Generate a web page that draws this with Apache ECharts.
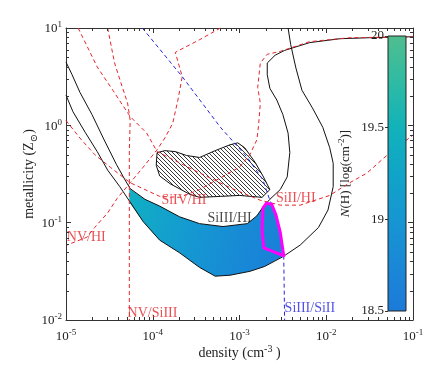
<!DOCTYPE html>
<html>
<head>
<meta charset="utf-8">
<script src="https://cdn.jsdelivr.net/npm/echarts@6/dist/echarts.min.js"></script>
<style>
html, body { margin: 0; padding: 0; background: #fff; }
#chart { width: 436px; height: 370px; }
</style>
</head>
<body>
<div id="chart"></div>
<script>
// every point is [log10 density (cm^-3), log10 metallicity (Zsun)]
var xTicks = [-5, -4, -3, -2, -1];
var yTicks = [-2, -1, 0, 1];
var cbTicks = [18.5, 19, 19.5, 20];

// SiIII/HI contours (black)
var siiiiHiInner = [[-5.00,0.65],[-4.93,0.52],[-4.84,0.34],[-4.70,0.11],[-4.56,-0.15],[-4.42,-0.40],[-4.32,-0.56],[-4.26,-0.65],[-4.09,-0.76],[-3.92,-0.83],[-3.69,-0.94],[-3.46,-1.01],[-3.19,-1.04],[-2.91,-1.01],[-2.80,-0.93],[-2.73,-0.84],[-2.65,-0.76],[-2.53,-0.66],[-2.45,-0.53],[-2.42,-0.28],[-2.44,-0.08],[-2.50,0.11],[-2.57,0.26],[-2.65,0.38],[-2.68,0.52],[-2.68,0.64],[-2.59,0.72],[-2.48,0.77],[-2.19,0.85],[-1.84,0.89],[-1.50,0.90],[-1.00,0.91]];
var siiiiHiOuter = [[-5.00,0.31],[-4.92,0.14],[-4.78,-0.07],[-4.64,-0.27],[-4.52,-0.46],[-4.38,-0.63],[-4.26,-0.79],[-4.11,-0.99],[-3.92,-1.18],[-3.69,-1.31],[-3.46,-1.46],[-3.28,-1.55],[-3.11,-1.54],[-2.88,-1.50],[-2.71,-1.45],[-2.50,-1.35],[-2.30,-1.23],[-2.09,-1.05],[-1.98,-0.87],[-1.92,-0.63],[-1.92,-0.39],[-1.96,-0.23],[-2.04,-0.02],[-2.16,0.18],[-2.28,0.36],[-2.35,0.59],[-2.41,0.83],[-2.44,1.00]];

// red dashed ratio curves
var nvSiiii = [[-4.52,1.00],[-4.44,0.64],[-4.35,0.39],[-4.29,0.23],[-4.26,0.05],[-4.27,-0.25],[-4.27,-2.00]];
var nvHi = [[-3.22,1.00],[-3.46,0.88],[-3.74,0.75],[-3.66,0.50],[-3.71,0.26],[-3.77,0.02],[-3.86,-0.13],[-3.95,-0.25],[-4.11,-0.43],[-4.26,-0.59],[-4.41,-0.75],[-4.52,-0.90],[-4.67,-1.05],[-4.76,-1.15],[-4.99,-1.23]];
var sivHi = [[-5.00,0.05],[-4.84,-0.13],[-4.67,-0.30],[-4.49,-0.43],[-4.26,-0.59],[-4.09,-0.66],[-3.92,-0.73],[-3.69,-0.74],[-3.46,-0.66],[-3.22,-0.54],[-3.00,-0.43],[-2.88,-0.30],[-2.80,-0.15],[-2.78,0.00],[-2.76,0.23],[-2.79,0.39],[-2.76,0.64],[-2.68,0.73],[-2.53,0.76],[-2.19,0.86],[-1.73,0.90],[-1.00,0.91]];
var siiHi = [[-4.86,1.00],[-4.64,0.60],[-4.46,0.36],[-4.26,0.09],[-4.07,-0.08],[-3.95,-0.27],[-3.57,-0.44],[-3.11,-0.64],[-2.76,-0.77],[-2.53,-0.82],[-2.30,-0.82],[-2.13,-0.77],[-1.96,-0.72],[-1.73,-0.59],[-1.53,-0.49],[-1.29,-0.30],[-1.00,-0.10]];

// blue dashed SiIII/SiII
var siiiiSiii = [[-4.12,1.00],[-3.66,0.50],[-3.22,-0.02],[-2.91,-0.33],[-2.73,-0.56],[-2.65,-0.77],[-2.58,-0.92],[-2.53,-1.10],[-2.49,-1.34],[-2.48,-2.00]];

// allowed region (coloured by N(H)), hatched region, magenta box
var allowedRegion = [[-4.27,-0.65],[-4.09,-0.76],[-3.92,-0.83],[-3.69,-0.94],[-3.46,-1.01],[-3.19,-1.04],[-2.91,-1.01],[-2.80,-0.93],[-2.73,-0.84],[-2.69,-0.80],[-2.63,-0.81],[-2.58,-0.92],[-2.53,-1.10],[-2.49,-1.34],[-2.71,-1.45],[-2.88,-1.50],[-3.11,-1.54],[-3.28,-1.55],[-3.46,-1.46],[-3.69,-1.31],[-3.92,-1.18],[-4.11,-0.99],[-4.27,-0.79]];
var hatchedRegion = [[-3.95,-0.28],[-3.86,-0.26],[-3.74,-0.27],[-3.61,-0.31],[-3.46,-0.33],[-3.28,-0.26],[-3.11,-0.20],[-3.02,-0.18],[-2.94,-0.23],[-2.82,-0.38],[-2.73,-0.52],[-2.65,-0.66],[-2.74,-0.74],[-3.00,-0.72],[-3.22,-0.73],[-3.46,-0.74],[-3.57,-0.71],[-3.80,-0.60],[-3.92,-0.52],[-3.96,-0.41]];
var magentaBox = [[-2.73,-0.85],[-2.69,-0.80],[-2.63,-0.81],[-2.58,-0.92],[-2.53,-1.10],[-2.49,-1.34],[-2.72,-1.26],[-2.74,-1.08]];

// curve labels
var labelNames = ['NV/HI', 'NV/SiIII', 'SiIV/HI', 'SiII/HI', 'SiIII/HI', 'SiIII/SiII'];
var labelAt = [[-4.99,-1.15],[-4.29,-1.93],[-3.90,-0.77],[-2.58,-0.75],[-3.37,-0.96],[-2.48,-1.88]];
var labelColors = ['#e3262b', '#e3262b', '#e3262b', '#e3262b', '#1a1a1a', '#2626e0'];

var cbColors = ['#50be8e', '#2fbba4', '#12b2ba', '#10a4c8', '#1696d2', '#1a88d7', '#1c7ad9'];

var SERIF = '"Liberation Serif", "DejaVu Serif", serif';
var RED = '#e3262b';
var AX = '#333';

var chart = echarts.init(document.getElementById('chart'));

// minor log ticks
var minorX = [], minorY = [];
for (var n = -5; n < -1; n++) for (var k = 2; k < 10; k++) minorX.push(n + Math.log10(k));
for (var m = -2; m < 1; m++) for (var k2 = 2; k2 < 10; k2++) minorY.push(m + Math.log10(k2));

function powLabel(v) { return '{b|10}{s|' + v + '}'; }
var powRich = {
    b: { fontSize: 13, fontFamily: SERIF, color: '#222', verticalAlign: 'bottom' },
    s: { fontSize: 9, fontFamily: SERIF, color: '#222', verticalAlign: 'bottom', padding: [0, 0, 6, 0] }
};

function polySeries(points, style, z) {
    return {
        type: 'custom', coordinateSystem: 'cartesian2d', xAxisIndex: 0, yAxisIndex: 0,
        silent: true, z: z, data: [points[0]],
        renderItem: function (params, api) {
            return {
                type: 'polygon',
                shape: { points: points.map(function (p) { return api.coord(p); }) },
                style: style
            };
        }
    };
}

function curve(data, color, dashed, z) {
    return {
        type: 'line', data: data, xAxisIndex: 0, yAxisIndex: 0, z: z,
        showSymbol: false, symbol: 'none', silent: true, animation: false,
        lineStyle: { color: color, width: 1, type: dashed ? [4, 3] : 'solid' }
    };
}

// hatch pattern
var hatch = document.createElement('canvas');
hatch.width = 4; hatch.height = 4;
var hc = hatch.getContext('2d');
hc.fillStyle = '#fff'; hc.fillRect(0, 0, 4, 4);
hc.strokeStyle = '#222'; hc.lineWidth = 0.9;
hc.beginPath();
hc.moveTo(0, 0); hc.lineTo(4, 4);
hc.moveTo(3, -1); hc.lineTo(5, 1);
hc.moveTo(-1, 3); hc.lineTo(1, 5);
hc.stroke();

var blueFill = new echarts.graphic.LinearGradient(0, 0, 1, 0.5, [
    { offset: 0, color: '#10b0c2' },
    { offset: 0.45, color: '#1598d2' },
    { offset: 1, color: '#1a80d8' }
]);
var cbFill = new echarts.graphic.LinearGradient(0, 0, 0, 1, cbColors.map(function (c, i) {
    return { offset: i / (cbColors.length - 1), color: c };
}));

function frameAxis(extra) {
    var base = {
        axisLine: { show: true, onZero: false, lineStyle: { color: AX } },
        axisTick: { show: true, inside: true, length: 5, lineStyle: { color: AX } },
        splitLine: { show: false }
    };
    for (var key in extra) base[key] = extra[key];
    return base;
}

var option = {
    animation: false,
    backgroundColor: '#fff',
    grid: [
        { left: 66, top: 28, width: 347, height: 292, containLabel: false, outerBoundsMode: 'none' },
        { left: 388, top: 36, width: 18, height: 275, containLabel: false, outerBoundsMode: 'none' }
    ],
    xAxis: [
        frameAxis({
            type: 'value', gridIndex: 0, position: 'bottom', min: xTicks[0], max: xTicks[xTicks.length - 1], interval: 1,
            axisLabel: { margin: 8, formatter: powLabel, rich: powRich },
            name: '{t|density (cm}{s|-3}{t| )}', nameLocation: 'middle', nameGap: 24, nameMoveOverlap: false,
            nameTextStyle: { rich: {
                t: { fontSize: 14, fontFamily: SERIF, color: '#222', verticalAlign: 'bottom' },
                s: { fontSize: 10, fontFamily: SERIF, color: '#222', verticalAlign: 'bottom', padding: [0, 0, 6, 0] }
            } }
        }),
        frameAxis({
            type: 'value', gridIndex: 0, position: 'top', min: xTicks[0], max: xTicks[xTicks.length - 1], interval: 1,
            axisLabel: { show: false }
        }),
        { type: 'value', gridIndex: 1, min: 0, max: 1, show: false }
    ],
    yAxis: [
        frameAxis({
            type: 'value', gridIndex: 0, position: 'left', min: yTicks[0], max: yTicks[yTicks.length - 1], interval: 1,
            axisLabel: { margin: 4, formatter: powLabel, rich: powRich },
            name: '{t|metallicity (Z}{u|\u2299}{t|)}', nameLocation: 'middle', nameGap: 30, nameRotate: 90, nameMoveOverlap: false,
            nameTextStyle: { rich: {
                t: { fontSize: 14, fontFamily: SERIF, color: '#222', verticalAlign: 'bottom' },
                u: { fontSize: 10, fontFamily: SERIF, color: '#222', verticalAlign: 'bottom', padding: [0, 0, -3, 0] }
            } }
        }),
        frameAxis({
            type: 'value', gridIndex: 0, position: 'right', min: yTicks[0], max: yTicks[yTicks.length - 1], interval: 1,
            axisLabel: { show: false }
        }),
        {
            type: 'value', gridIndex: 1, min: cbTicks[0], max: cbTicks[cbTicks.length - 1], interval: 0.5,
            axisLine: { show: false, onZero: false },
            axisTick: { show: true, inside: false, length: 3, lineStyle: { color: AX } },
            splitLine: { show: false },
            axisLabel: { margin: 4, fontSize: 13, fontFamily: SERIF, color: '#222' },
            name: '{i|N}{t|(H) [log(cm}{s|-2}{t|)]}', nameLocation: 'middle', nameGap: 36, nameRotate: 90, nameMoveOverlap: false,
            nameTextStyle: { rich: {
                i: { fontSize: 13, fontFamily: SERIF, fontStyle: 'italic', color: '#222', verticalAlign: 'bottom' },
                t: { fontSize: 13, fontFamily: SERIF, color: '#222', verticalAlign: 'bottom' },
                s: { fontSize: 9, fontFamily: SERIF, color: '#222', verticalAlign: 'bottom', padding: [0, 0, 6, 0] }
            } }
        }
    ],
    series: [
        polySeries(allowedRegion, { fill: blueFill, stroke: null }, 1),
        polySeries(hatchedRegion, { fill: { image: hatch, repeat: 'repeat' }, stroke: '#111', lineWidth: 1 }, 2),
        curve(siiiiHiInner, '#111', false, 3),
        curve(siiiiHiOuter, '#111', false, 3),
        curve(nvSiiii, RED, true, 4),
        curve(nvHi, RED, true, 4),
        curve(sivHi, RED, true, 4),
        curve(siiHi, RED, true, 4),
        curve(siiiiSiii, '#2626e0', true, 4),
        polySeries(magentaBox, { fill: null, stroke: '#ff00ff', lineWidth: 3, lineJoin: 'round' }, 5),
        {
            type: 'scatter', xAxisIndex: 0, yAxisIndex: 0, z: 6, silent: true,
            symbolSize: 0,
            data: labelNames.map(function (name, i) {
                return {
                    name: name, value: labelAt[i],
                    label: { color: labelColors[i] }
                };
            }),
            label: {
                show: true, position: 'right', distance: 0,
                formatter: '{b}', fontSize: 14, fontFamily: SERIF
            }
        },
        {
            type: 'custom', coordinateSystem: 'cartesian2d', xAxisIndex: 0, yAxisIndex: 0,
            silent: true, z: 7, data: [[-3, -1]],
            renderItem: function (params, api) {
                var cs = params.coordSys;
                var top = cs.y, bottom = cs.y + cs.height, left = cs.x, right = cs.x + cs.width;
                var kids = [];
                var st = { stroke: AX, lineWidth: 1 };
                minorX.forEach(function (v) {
                    var px = Math.round(api.coord([v, -2])[0]) + 0.5;
                    kids.push({ type: 'line', shape: { x1: px, y1: bottom, x2: px, y2: bottom - 3 }, style: st });
                    kids.push({ type: 'line', shape: { x1: px, y1: top, x2: px, y2: top + 3 }, style: st });
                });
                minorY.forEach(function (v) {
                    var py = Math.round(api.coord([-5, v])[1]) + 0.5;
                    kids.push({ type: 'line', shape: { x1: left, y1: py, x2: left + 3, y2: py }, style: st });
                    kids.push({ type: 'line', shape: { x1: right, y1: py, x2: right - 3, y2: py }, style: st });
                });
                return { type: 'group', children: kids };
            }
        },
        {
            type: 'custom', coordinateSystem: 'cartesian2d', xAxisIndex: 2, yAxisIndex: 2,
            silent: true, z: 8, data: [[0, cbTicks[0]]],
            renderItem: function (params, api) {
                var p0 = api.coord([0, cbTicks[cbTicks.length - 1]]);
                var p1 = api.coord([1, cbTicks[0]]);
                return {
                    type: 'rect',
                    shape: { x: p0[0], y: p0[1], width: p1[0] - p0[0], height: p1[1] - p0[1] },
                    style: { fill: cbFill, stroke: '#222', lineWidth: 1 }
                };
            }
        }
    ]
};

chart.setOption(option);
</script>
</body>
</html>
